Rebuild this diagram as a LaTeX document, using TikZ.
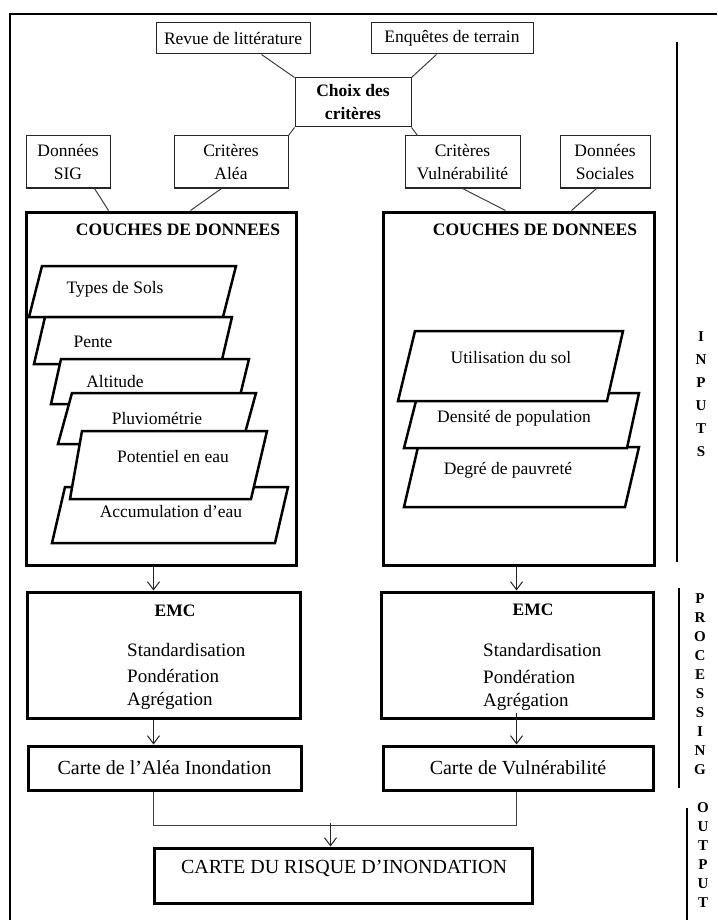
\documentclass[tikz,border=0pt]{standalone}
\usepackage{fontspec}
\setmainfont{Liberation Serif}
\usetikzlibrary{arrows.meta,calc}
\newcommand\fntbox{\fontsize{17.5}{23}\selectfont}
\newcommand\fntemc{\fontsize{19}{23}\selectfont}
\newcommand\fntcarte{\fontsize{20}{24}\selectfont}
\newcommand\fntlet{\fontsize{15}{23}\selectfont\bfseries}
\begin{document}
\begin{tikzpicture}[x=1pt,y=-1pt,
  thinbox/.style={draw=black!85, line width=1pt, fill=white, inner sep=0pt, align=center, font=\fntbox},
  bigbox/.style={draw, line width=3pt, inner sep=0pt, align=center},
  para/.style={draw, line width=2.5pt, fill=white, line join=miter},
  lbl/.style={inner sep=0pt, font=\fntbox},
  emclbl/.style={inner sep=0pt, font=\fntemc, anchor=west},
  conn/.style={draw=black!75, line width=1pt},
  arr/.style={draw=black!85, line width=1pt, -{Straight Barb[length=8pt,width=12pt,line width=1pt]}},
  side/.style={line width=2pt},
  letters/.style={inner sep=0pt, align=center, font=\fntlet}]
\fill[white] (0,0) rectangle (717,920);
\useasboundingbox (0,0) rectangle (717,920);
% outer frame
\draw[line width=2pt] (717,14) -- (10,14) -- (10,920);
% top boxes
\node[thinbox, minimum width=154pt, minimum height=31pt] (revue) at (233,38.5) {Revue de littérature};
\node[thinbox, minimum width=162pt, minimum height=31pt] (enq) at (452,38.5) {Enquêtes de terrain};
\node[thinbox, minimum width=116pt, minimum height=49pt, font=\fntbox\bfseries] (choix) at (353,102.5) {Choix des\\critères};
\node[thinbox, minimum width=84pt, minimum height=52pt] (sig) at (68,162) {Données\\SIG};
\node[thinbox, minimum width=114pt, minimum height=52pt] (critA) at (231,162) {Critères\\Aléa};
\node[thinbox, minimum width=115pt, minimum height=52pt] (critV) at (462.5,162) {Critères\\Vulnérabilité};
\node[thinbox, minimum width=90pt, minimum height=52pt] (soc) at (605,162) {Données\\Sociales};
% big boxes
\node[bigbox, minimum width=270pt, minimum height=353pt] (couchesL) at (161,388.5) {};
\node[bigbox, minimum width=271pt, minimum height=353pt] (couchesR) at (518.5,388.5) {};
\node[lbl, font=\fntbox\bfseries] (coL) at (178,230) {COUCHES DE DONNEES};
\node[lbl, font=\fntbox\bfseries] (coR) at (535,230) {COUCHES DE DONNEES};
% connectors top
\draw[conn] ($(revue.south west)+(106,0)$) -- (choix.north west);
\draw[conn] ($(enq.south west)+(66,0)$) -- (choix.north east);
\draw[conn] (choix.south west) -- (critA.north east);
\draw[conn] (choix.south east) -- ($(critV.north west)+(13,0)$);
\draw[conn] ($(sig.south west)+(69,0)$) -- ($(couchesL.north west)+(84,0)$);
\draw[conn] ($(critA.south west)+(48,0)$) -- ($(couchesL.north west)+(166,0)$);
\draw[conn] ($(critV.south west)+(58,0)$) -- ($(couchesR.north west)+(124,0)$);
\draw[conn] ($(soc.south west)+(37,0)$) -- ($(couchesR.north west)+(190,0)$);
% left layers
\draw[para] (42,266) -- (236,266) -- (223,317) -- (29,317) -- cycle;
\node[lbl] (types) at (115,289) {Types de Sols};
\draw[para] (45,317) -- (232,317) -- (221,364) -- (34,364) -- cycle;
\node[lbl] (pente) at (93,342) {Pente};
\draw[para] (61,359) -- (249,359) -- (238,404) -- (51,404) -- cycle;
\node[lbl] (alt) at (115,382) {Altitude};
\draw[para] (72,393) -- (256,393) -- (242,444) -- (58,444) -- cycle;
\node[lbl] (pluv) at (157,418) {Pluviométrie};
\draw[para] (65,487) -- (288,487) -- (275,543) -- (52,543) -- cycle;
\node[lbl] (accu) at (171,512) {Accumulation d’eau};
\draw[para] (82,431) -- (267,431) -- (251,499) -- (70,499) -- cycle;
\node[lbl] (pot) at (173,457) {Potentiel en eau};
% right layers
\draw[para] (418,447) -- (639,447) -- (625,507) -- (404,507) -- cycle;
\node[lbl] (deg) at (508,470) {Degré de pauvreté};
\draw[para] (418,393) -- (639,393) -- (627,448) -- (404,448) -- cycle;
\node[lbl] (dens) at (514,418) {Densité de population};
\draw[para] (415,331) -- (623,331) -- (607,401) -- (398,401) -- cycle;
\node[lbl] (util) at (511,358) {Utilisation du sol};
% EMC boxes
\node[bigbox, minimum width=273pt, minimum height=126pt] (emcL) at (163.5,655) {};
\node[bigbox, minimum width=272pt, minimum height=126pt] (emcR) at (517,655) {};
\node[lbl, font=\fntbox\bfseries] (emcLt) at (175,611) {EMC};
\node[lbl, font=\fntbox\bfseries] (emcRt) at (533,610) {EMC};
\node[emclbl] (stL) at (127,650) {Standardisation};
\node[emclbl] (poL) at (127,676) {Pondération};
\node[emclbl] (agL) at (127,701) {Agrégation};
\node[emclbl] (stR) at (483,650) {Standardisation};
\node[emclbl] (poR) at (483,677) {Pondération};
\node[emclbl] (agR) at (483,702) {Agrégation};
% carte boxes
\node[bigbox, minimum width=273pt, minimum height=44pt, font=\fntcarte] (carteL) at (164.5,768) {Carte de l’Aléa Inondation};
\node[bigbox, minimum width=270pt, minimum height=44pt, font=\fntcarte] (carteR) at (518,768) {Carte de Vulnérabilité};
\node[bigbox, minimum width=378pt, minimum height=55pt] (risque) at (343,875.5) {};
\node[lbl, font=\fntcarte] (risqueT) at (344,868) {CARTE DU RISQUE D’INONDATION};
% arrows
\coordinate (a1) at ($(couchesL.south west)+(129,0)$);
\draw[arr] (a1) -- (a1 |- emcL.north);
\coordinate (a2) at ($(couchesR.south west)+(135,0)$);
\draw[arr] (a2) -- (a2 |- emcR.north);
\coordinate (a3) at ($(emcL.south west)+(128,0)$);
\draw[arr] (a3) -- (a3 |- carteL.north);
\coordinate (a4) at ($(emcR.south west)+(137,-7)$);
\draw[arr] (a4) -- (a4 |- carteR.north);
\coordinate (cl) at ($(carteL.south west)+(127,0)$);
\coordinate (cr) at ($(carteR.south west)+(135,0)$);
\draw[conn] (cl) -- ($(cl)+(0,34)$) -| (cr);
\coordinate (jn) at ($(risque.north west)+(178,-24)$);
\draw[arr] (jn) -- (jn |- risque.north);
% side bars and labels
\draw[side] (677,42) -- (677,562);
\draw[side] (679,588) -- (679,788);
\draw[side] (687,808) -- (687,920);
\node[letters, font=\fontsize{15}{23}\selectfont\bfseries] (inputs) at (701,394.5) {I\\N\\P\\U\\T\\S};
\node[letters, font=\fontsize{15}{19}\selectfont\bfseries] (processing) at (700,684) {P\\R\\O\\C\\E\\S\\S\\I\\N\\G};
\node[letters, font=\fontsize{15}{19}\selectfont\bfseries] (output) at (703,855) {O\\U\\T\\P\\U\\T};
\end{tikzpicture}
\end{document}
